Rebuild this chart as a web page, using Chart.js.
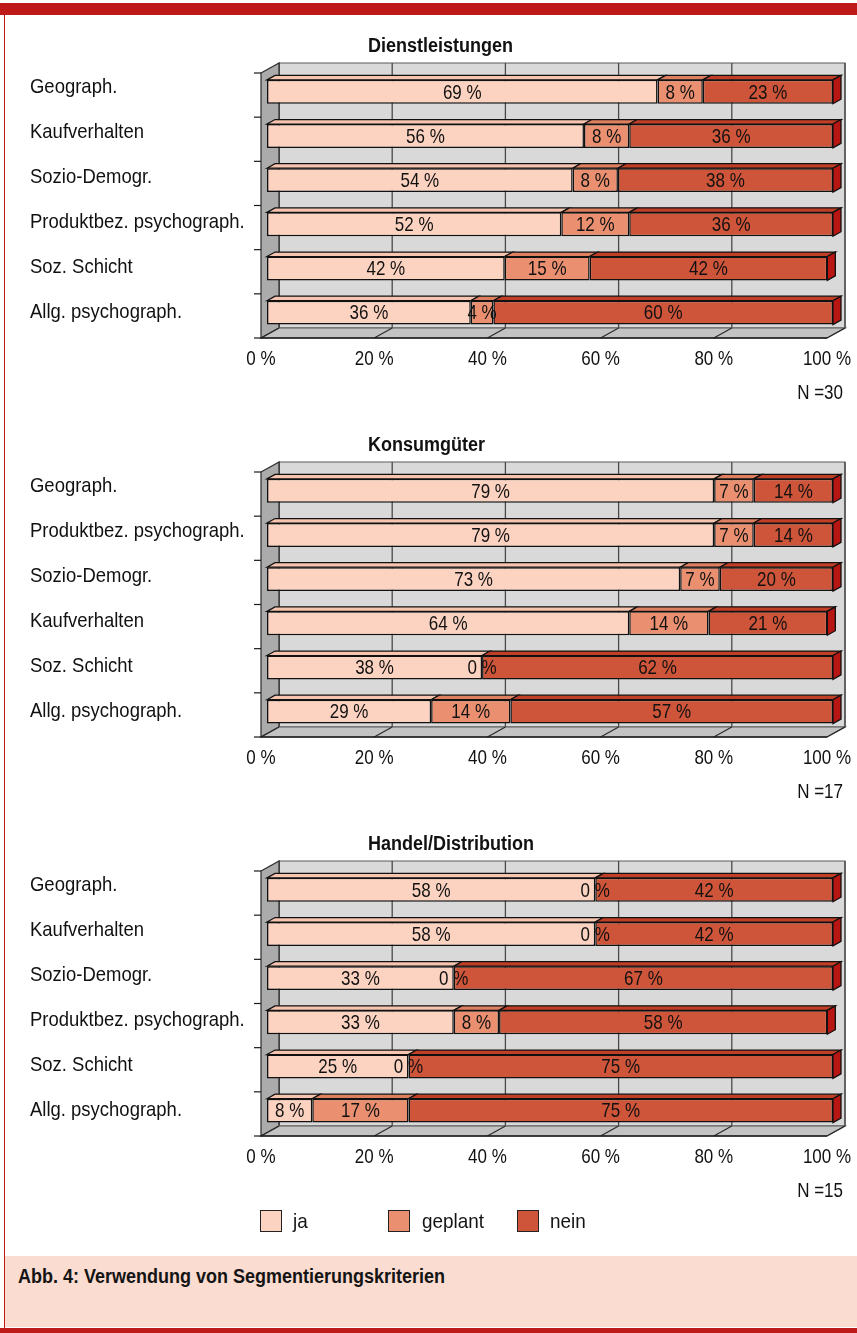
<!DOCTYPE html>
<html lang="de">
<head>
<meta charset="utf-8">
<title>Verwendung von Segmentierungskriterien</title>
<script src="https://cdn.jsdelivr.net/npm/chart.js@4.4.1/dist/chart.umd.min.js"></script>
<style>
  html, body { margin: 0; padding: 0; background: #fff; }
  body {
    width: 857px; height: 1333px; position: relative; overflow: hidden;
    font-family: "Liberation Sans", Arial, sans-serif;
    color: #141414;
  }
  #topbar { position: absolute; left: 0; top: 3px; width: 857px; height: 12px; background: #BE1A1A; }
  #leftline { position: absolute; left: 4px; top: 15px; width: 1px; height: 1313px; background: #BE1A1A; }
  #bottombar { position: absolute; left: 0; top: 1328px; width: 857px; height: 5px; background: #BE1A1A; }
  .panel { position: absolute; left: 0; width: 857px; height: 399px; }
  .panel canvas { display: block; }
  .sw { position: absolute; top: 1210px; width: 22px; height: 22px; box-sizing: border-box; border: 1.5px solid #222; }
  .lt { position: absolute; top: 1210px; height: 22px; line-height: 22px; font-size: 21px;
        transform: scaleX(0.9); transform-origin: 0 50%; white-space: nowrap; }
  #caption { position: absolute; left: 5px; top: 1256px; width: 852px; height: 71px; background: #FBDCD0; }
  #caption span { position: absolute; left: 13px; top: 9px; font-size: 20px; font-weight: bold; line-height: 22px;
                  transform: scaleX(0.9); transform-origin: 0 50%; white-space: nowrap; }
</style>
</head>
<body>
<div id="topbar"></div>
<div id="leftline"></div>

<div class="panel" style="top:20px"><canvas id="chartDl" width="857" height="399"></canvas></div>
<div class="panel" style="top:419px"><canvas id="chartKg" width="857" height="399"></canvas></div>
<div class="panel" style="top:818px"><canvas id="chartHd" width="857" height="399"></canvas></div>

<span class="sw" style="left:260px;background:#FCD3C1"></span><span class="lt" style="left:293px">ja</span>
<span class="sw" style="left:388px;background:#EA9071"></span><span class="lt" style="left:422px">geplant</span>
<span class="sw" style="left:517px;background:#CF553A"></span><span class="lt" style="left:550px">nein</span>

<div id="caption"><span>Abb. 4: Verwendung von Segmentierungskriterien</span></div>
<div id="bottombar"></div>

<script>
// ---- data ---------------------------------------------------------------
const seriesNames = ['ja', 'geplant', 'nein'];
const xTicks = [0, 20, 40, 60, 80, 100];

const dlTitle = 'Dienstleistungen';
const dlN = 'N =30';
const dlCategories = ['Geograph.', 'Kaufverhalten', 'Sozio-Demogr.', 'Produktbez. psychograph.', 'Soz. Schicht', 'Allg. psychograph.'];
const dlJa      = [69, 56, 54, 52, 42, 36];
const dlGeplant = [ 8,  8,  8, 12, 15,  4];
const dlNein    = [23, 36, 38, 36, 42, 60];

const kgTitle = 'Konsumgüter';
const kgN = 'N =17';
const kgCategories = ['Geograph.', 'Produktbez. psychograph.', 'Sozio-Demogr.', 'Kaufverhalten', 'Soz. Schicht', 'Allg. psychograph.'];
const kgJa      = [79, 79, 73, 64, 38, 29];
const kgGeplant = [ 7,  7,  7, 14,  0, 14];
const kgNein    = [14, 14, 20, 21, 62, 57];

const hdTitle = 'Handel/Distribution';
const hdN = 'N =15';
const hdCategories = ['Geograph.', 'Kaufverhalten', 'Sozio-Demogr.', 'Produktbez. psychograph.', 'Soz. Schicht', 'Allg. psychograph.'];
const hdJa      = [58, 58, 33, 33, 25,  8];
const hdGeplant = [ 0,  0,  0,  8,  0, 17];
const hdNein    = [42, 42, 67, 58, 75, 75];

// ---- styling ------------------------------------------------------------
const FONT = '"Liberation Sans", Arial, sans-serif';
const FRONT_COLORS = ['#FCD3C1', '#EA9071', '#CF553A'];
const TOP_COLORS   = ['#F6C4AF', '#DE7F60', '#C13E27'];
const SIDE_COLOR   = '#B81612';
const INK = '#111111';

// condensed look: horizontal squeeze applied to canvas text
const SQUEEZE_TEXT = 0.88;
const SQUEEZE_NUM  = 0.81;
const SQUEEZE_BOLD = 0.9;

// geometry of the pseudo-3D box, relative to the bar front faces
const FRONT = { dx: -6, dy: 3.3 };  // front plane of the walls
const WALL  = { dx: 18, dy: -10 };  // wall depth
const BAR   = { dx: 8,  dy: -4.5 }; // bar depth

function poly(ctx, pts, fill, stroke, lw) {
  ctx.beginPath();
  ctx.moveTo(pts[0][0], pts[0][1]);
  for (let i = 1; i < pts.length; i++) ctx.lineTo(pts[i][0], pts[i][1]);
  ctx.closePath();
  if (fill) { ctx.fillStyle = fill; ctx.fill(); }
  if (stroke) { ctx.strokeStyle = stroke; ctx.lineWidth = lw || 1; ctx.stroke(); }
}
function line(ctx, x1, y1, x2, y2, color, lw) {
  ctx.beginPath();
  ctx.moveTo(x1, y1); ctx.lineTo(x2, y2);
  ctx.strokeStyle = color; ctx.lineWidth = lw; ctx.stroke();
}
function narrowText(ctx, text, x, y, align, font, sx) {
  ctx.save();
  ctx.font = font;
  ctx.textAlign = 'left';
  ctx.textBaseline = 'middle';
  ctx.fillStyle = INK;
  const w = ctx.measureText(text).width * sx;
  const left = align === 'center' ? x - w / 2 : align === 'right' ? x - w : x;
  ctx.translate(left, y);
  ctx.scale(sx, 1);
  ctx.fillText(text, 0, 0);
  ctx.restore();
}

const box3d = {
  id: 'box3d',
  beforeDatasetsDraw(chart) {
    const { ctx, chartArea: ca, scales: { x } } = chart;
    const fx = v => x.getPixelForValue(v) + FRONT.dx;
    const fx0 = fx(0), fx1 = fx(100);
    const ft = ca.top + FRONT.dy, fb = ca.bottom + FRONT.dy;
    const bx0 = fx0 + WALL.dx, bx1 = fx1 + WALL.dx;
    const bt = ft + WALL.dy, bb = fb + WALL.dy;
    ctx.save();
    // back wall with vertical gridlines
    poly(ctx, [[bx0, bt], [bx1, bt], [bx1, bb], [bx0, bb]], '#D9D9D9', '#5A5A5A', 1.2);
    xTicks.forEach(v => {
      const px = fx(v) + WALL.dx;
      line(ctx, px, bt, px, bb, '#4A4A4A', 1.3);
    });
    // left wall
    poly(ctx, [[fx0, ft], [bx0, bt], [bx0, bb], [fx0, fb]], '#ABABAB', '#2A2A2A', 1.2);
    // floor with receding gridlines
    poly(ctx, [[fx0, fb], [fx1, fb], [bx1, bb], [bx0, bb]], '#C3C3C3', '#5A5A5A', 1.2);
    xTicks.forEach(v => {
      const px = fx(v);
      line(ctx, px, fb, px + WALL.dx, bb, '#2A2A2A', 1.2);
    });
    line(ctx, fx0, fb, fx1, fb, '#1A1A1A', 1.4);
    // category tick marks on the front edge
    const n = chart.data.labels.length;
    const band = (fb - ft) / n;
    for (let k = 0; k <= n; k++) {
      const ty = ft + k * band;
      line(ctx, fx0 - 7, ty, fx0, ty, '#1A1A1A', 1.2);
    }
    ctx.restore();
  },
  afterDatasetsDraw(chart) {
    const { ctx } = chart;
    const n = chart.data.labels.length;
    ctx.save();
    // top faces and the right-hand end face of every stacked bar
    for (let i = 0; i < n; i++) {
      let last = null;
      chart.data.datasets.forEach((ds, d) => {
        const el = chart.getDatasetMeta(d).data[i];
        const { x, y, base, height } = el.getProps(['x', 'y', 'base', 'height'], true);
        const left = Math.min(x, base), right = Math.max(x, base);
        if (right - left < 0.5) return;
        const top = y - height / 2;
        poly(ctx, [[left, top], [left + BAR.dx, top + BAR.dy], [right + BAR.dx, top + BAR.dy], [right, top]],
             TOP_COLORS[d], INK, 1.3);
        last = { right, top, bottom: y + height / 2 };
      });
      if (last) {
        poly(ctx, [[last.right, last.top], [last.right + BAR.dx, last.top + BAR.dy],
                   [last.right + BAR.dx, last.bottom + BAR.dy], [last.right, last.bottom]],
             SIDE_COLOR, INK, 1.3);
      }
    }
    ctx.restore();
    // value labels centred on each segment
    chart.data.datasets.forEach((ds, d) => {
      chart.getDatasetMeta(d).data.forEach((el, i) => {
        const { x, y, base } = el.getProps(['x', 'y', 'base'], true);
        narrowText(ctx, ds.data[i] + ' %', (x + base) / 2, y + 1, 'center', '21px ' + FONT, SQUEEZE_NUM);
      });
    });
  },
  afterDraw(chart, args, opts) {
    const { ctx, chartArea: ca, scales: { x, y } } = chart;
    // panel heading
    narrowText(ctx, opts.title, 368, 26, 'left', 'bold 20px ' + FONT, SQUEEZE_BOLD);
    // category names, set on a slightly wider pitch than the bars
    chart.data.labels.forEach((lab, i) => {
      narrowText(ctx, lab, 30, y.getPixelForValue(i) - 5 + i, 'left', '21px ' + FONT, SQUEEZE_TEXT);
    });
    // percentage axis labels under the floor
    xTicks.forEach(v => {
      narrowText(ctx, v + ' %', x.getPixelForValue(v) + FRONT.dx, ca.bottom + 25, 'center', '21px ' + FONT, SQUEEZE_NUM);
    });
    // sample size
    narrowText(ctx, opts.n, 843, 373, 'right', '21px ' + FONT, SQUEEZE_NUM);
  }
};

function makePanel(canvasId, title, nLabel, categories, ja, geplant, nein) {
  const values = [ja, geplant, nein];
  return new Chart(document.getElementById(canvasId), {
    type: 'bar',
    data: {
      labels: categories,
      datasets: seriesNames.map((name, d) => ({
        label: name,
        data: values[d],
        backgroundColor: FRONT_COLORS[d],
        borderColor: INK,
        borderWidth: 1.5,
        borderSkipped: false,
        categoryPercentage: 0.54,
        barPercentage: 1
      }))
    },
    options: {
      indexAxis: 'y',
      responsive: false,
      animation: false,
      events: [],
      layout: { padding: { top: 49.7, left: 30, right: 24, bottom: 0 } },
      plugins: {
        legend: { display: false },
        tooltip: { enabled: false },
        title: { display: false },
        box3d: { title: title, n: nLabel }
      },
      scales: {
        x: {
          stacked: true,
          min: 0, max: 100,
          afterFit: s => { s.height = 84.3; s.paddingLeft = 0; s.paddingRight = 0; },
          ticks: { display: false, stepSize: 20 },
          grid: { display: false, drawTicks: false },
          border: { display: false }
        },
        y: {
          stacked: true,
          afterFit: s => { s.width = 237; },
          ticks: { display: false },
          grid: { display: false, drawTicks: false },
          border: { display: false }
        }
      }
    },
    plugins: [box3d]
  });
}

makePanel('chartDl', dlTitle, dlN, dlCategories, dlJa, dlGeplant, dlNein);
makePanel('chartKg', kgTitle, kgN, kgCategories, kgJa, kgGeplant, kgNein);
makePanel('chartHd', hdTitle, hdN, hdCategories, hdJa, hdGeplant, hdNein);
</script>
</body>
</html>
